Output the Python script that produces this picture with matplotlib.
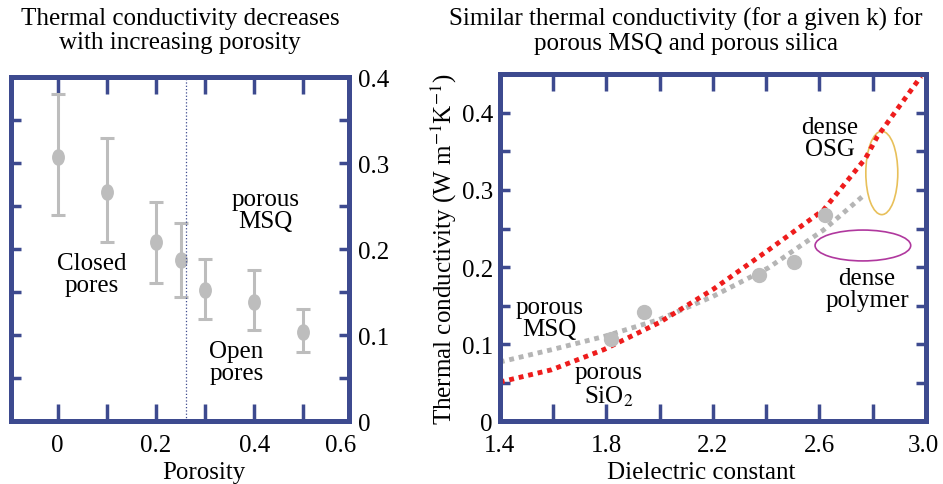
#!/usr/bin/env python3
import matplotlib
matplotlib.use("Agg")
import matplotlib.pyplot as plt
from matplotlib.patches import Ellipse
from matplotlib.path import Path
from matplotlib.transforms import Affine2D, ScaledTranslation

# left panel: conductivity vs porosity
porosity = [0.0, 0.1, 0.2, 0.25, 0.3, 0.4, 0.5]
cond = [0.307, 0.267, 0.208, 0.187, 0.153, 0.139, 0.104]
cond_hi = [0.380, 0.329, 0.255, 0.231, 0.189, 0.176, 0.131]
cond_lo = [0.240, 0.208, 0.161, 0.144, 0.119, 0.106, 0.081]
pore_split = 0.261

# right panel: conductivity vs dielectric constant
k_pts = [1.816, 1.942, 2.372, 2.506, 2.622]
cond_pts = [0.107, 0.142, 0.190, 0.207, 0.268]
msq_k = [1.40, 1.595, 1.790, 1.998, 2.200, 2.408, 2.615, 2.773]
msq_fit = [0.077, 0.093, 0.110, 0.132, 0.162, 0.199, 0.248, 0.295]
sio2_k = [1.40, 1.595, 1.790, 1.998, 2.200, 2.408, 2.615, 2.773, 2.817, 2.981]
sio2_fit = [0.051, 0.067, 0.093, 0.128, 0.171, 0.222, 0.274, 0.341, 0.369, 0.447]

FRAME = "#3D4A8F"
GRAY = "#BDBDBD"
FS = 18

plt.rcParams['font.family'] = ['Liberation Serif', 'DejaVu Serif']
plt.rcParams['mathtext.fontset'] = 'stix'

# tall ellipse marker like the original dots
dot = Path.unit_circle().transformed(Affine2D().scale(0.75, 1.0))


def style_frame(ax):
    for sp in ax.spines.values():
        sp.set_color(FRAME)
        sp.set_linewidth(3.6)
    ax.xaxis.remove_overlapping_locs = False
    ax.yaxis.remove_overlapping_locs = False
    ax.tick_params(which='both', direction='in', color=FRAME, width=2.5,
                   top=True, right=True, labelsize=FS, pad=9)
    ax.tick_params(which='major', length=0)
    ax.tick_params(axis='x', which='minor', length=12)
    ax.tick_params(axis='y', which='minor', length=7)


fig = plt.figure(figsize=(9.43, 4.85), dpi=100)

# ---- left panel
ax1 = fig.add_axes([0.0117, 0.129, 0.358, 0.710])
lo = [c - l for c, l in zip(cond, cond_lo)]
hi = [h - c for c, h in zip(cond, cond_hi)]
ax1.errorbar(porosity, cond, yerr=[lo, hi], fmt='none', ecolor=GRAY,
             elinewidth=2.2, capsize=5, capthick=2.2)
ax1.plot(porosity, cond, ls='none', marker=dot, ms=11, color=GRAY)
ax1.axvline(pore_split, color=FRAME, lw=0.9, ls=':')
ax1.set_xlim(-0.095, 0.592)
ax1.set_ylim(0, 0.4)
ax1.set_xticks([0, 0.2, 0.4, 0.575])
ax1.set_xticklabels(['0', '0.2', '0.4', '0.6'])
ax1.set_xticks([0, 0.1, 0.2, 0.3, 0.4, 0.5], minor=True)
ax1.set_yticks([0, 0.1, 0.2, 0.3, 0.4])
ax1.set_yticklabels(['0', '0.1', '0.2', '0.3', '0.4'])
ax1.set_yticks([0.05 * i for i in range(1, 8)], minor=True)
style_frame(ax1)
ax1.tick_params(axis='y', labelleft=False, labelright=True, pad=7)
ax1.set_xlabel('Porosity', fontsize=FS, labelpad=2)
ax1.xaxis.set_label_coords(0.571, -0.115)
ax1.text(0.07, 0.171, 'Closed\npores', fontsize=FS, ha='center', va='center',
         linespacing=1.0)
ax1.text(0.423, 0.246, 'porous\nMSQ', fontsize=FS, ha='center', va='center',
         linespacing=1.0)
ax1.text(0.364, 0.069, 'Open\npores', fontsize=FS, ha='center', va='center',
         linespacing=1.0)

# ---- right panel
ax2 = fig.add_axes([0.530, 0.129, 0.452, 0.716])
ax2.plot(msq_k, msq_fit, color='#B5B5B5', lw=3.5, ls=(0, (1, 1)))
ax2.plot(sio2_k, sio2_fit, color='#EE1C1C', lw=3.5, ls=(0, (1, 1)))
ax2.plot(k_pts, cond_pts, ls='none', marker='o', ms=10, color=GRAY)
ax2.add_patch(Ellipse((2.834, 0.322), 0.120, 0.108, fill=False,
                      ec='#E8C05A', lw=1.2))
ax2.add_patch(Ellipse((2.763, 0.228), 0.359, 0.040, fill=False,
                      ec='#B0389E', lw=1.2))
ax2.set_xlim(1.4, 3.0)
ax2.set_ylim(0, 0.45)
ax2.set_xticks([1.4, 1.8, 2.2, 2.6, 3.0])
ax2.set_xticklabels(['1.4', '1.8', '2.2', '2.6', '3.0'])
ax2.set_xticks([1.4 + 0.2 * i for i in range(1, 8)], minor=True)
ax2.set_yticks([0, 0.1, 0.2, 0.3, 0.4])
ax2.set_yticklabels(['0', '0.1', '0.2', '0.3', '0.4'])
ax2.set_yticks([0.05 * i for i in range(1, 9)], minor=True)
style_frame(ax2)
ax2.tick_params(axis='y', pad=5)
# keep the last label inside the canvas
last = ax2.get_xticklabels()[-1]
last.set_transform(last.get_transform() +
                   ScaledTranslation(-2 / 72, 0, fig.dpi_scale_trans))
ax2.set_xlabel('Dielectric constant', fontsize=FS)
ax2.xaxis.set_label_coords(0.473, -0.115)
ax2.set_ylabel('Thermal conductivity (W m$^{-1}$K$^{-1}$)', fontsize=FS,
               labelpad=2)
ax2.text(2.638, 0.367, 'dense\nOSG', fontsize=FS, ha='center', va='center',
         linespacing=1.0)
ax2.text(2.779, 0.171, 'dense\npolymer', fontsize=FS, ha='center',
         va='center', linespacing=1.0)
ax2.text(1.586, 0.134, 'porous\nMSQ', fontsize=FS, ha='center', va='center',
         linespacing=1.0)
ax2.text(1.809, 0.048, 'porous\nSiO$_2$', fontsize=FS, ha='center',
         va='center', linespacing=1.0)

# titles
fig.text(180 / 943, 1 - 31 / 485, 'Thermal conductivity decreases\nwith increasing porosity',
         fontsize=18, ha='center', va='center', linespacing=1.1)
fig.text(686 / 943, 1 - 31 / 485,
         'Similar thermal conductivity (for a given k) for\nporous MSQ and porous silica',
         fontsize=18, ha='center', va='center', linespacing=1.1)

fig.savefig('out.png', dpi=100)
